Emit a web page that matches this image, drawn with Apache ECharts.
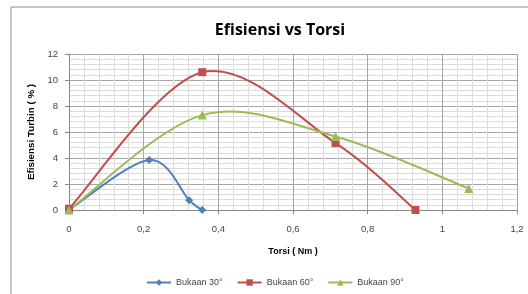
<!DOCTYPE html>
<html>
<head>
<meta charset="utf-8">
<script src="https://cdn.jsdelivr.net/npm/echarts@6/dist/echarts.min.js"></script>
<style>
  html, body { margin: 0; padding: 0; background: #fff; }
  #chart { width: 528px; height: 294px; }
</style>
</head>
<body>
<div id="chart"></div>
<script>
// data
const torsi30 = [0, 0.215, 0.322, 0.357];
const efisiensi30 = [0, 3.85, 0.75, 0];
const torsi60 = [0, 0.357, 0.714, 0.928];
const efisiensi60 = [0.1, 10.6, 5.15, 0];
const torsi90 = [0, 0.357, 0.714, 1.071];
const efisiensi90 = [0, 7.3, 5.65, 1.65];
const seriesNames = ['Bukaan 30°', 'Bukaan 60°', 'Bukaan 90°'];
const colors = ['#4F81BD', '#C0504D', '#9BBB59'];

const pairs = (xs, ys) => xs.map((x, i) => [x, ys[i]]);
const labelFont = "'Liberation Sans', sans-serif";
const comma = v => String(Math.round(v * 10) / 10).replace('.', ',');

// excel-style smoothing (catmull-rom, tangent/6) in pixel space
function smoothCurve(xs, ys, color) {
  return {
    type: 'custom',
    name: '_curve',
    silent: true,
    itemStyle: { color: color },
    data: [0],
    renderItem: (params, api) => {
      const p = xs.map((x, i) => api.coord([x, ys[i]]));
      let d = 'M' + p[0][0] + ' ' + p[0][1];
      for (let i = 0; i < p.length - 1; i++) {
        const a = p[Math.max(i - 1, 0)], b = p[i], c = p[i + 1], e = p[Math.min(i + 2, p.length - 1)];
        const c1 = [b[0] + (c[0] - a[0]) / 6, b[1] + (c[1] - a[1]) / 6];
        const c2 = [c[0] - (e[0] - b[0]) / 6, c[1] - (e[1] - b[1]) / 6];
        d += ' C' + c1.join(' ') + ' ' + c2.join(' ') + ' ' + c.join(' ');
      }
      return { type: 'path', shape: { pathData: d }, style: { fill: 'none', stroke: color, lineWidth: 2 } };
    }
  };
}

function markers(i, symbol, size, xs, ys) {
  return {
    name: seriesNames[i], type: 'line', data: pairs(xs, ys),
    symbol: symbol, symbolSize: size,
    itemStyle: { color: colors[i] },
    lineStyle: { color: colors[i], width: 2, opacity: 0 }
  };
}

const chart = echarts.init(document.getElementById('chart'));
chart.setOption({
  animation: false,
  backgroundColor: '#fff',
  graphic: [{
    type: 'rect',
    shape: { x: 11, y: 7, width: 530, height: 300 },
    style: { fill: 'none', stroke: '#8c8c8c', lineWidth: 1 },
    silent: true
  }],
  title: {
    text: 'Efisiensi vs Torsi',
    left: 275, top: 17, textAlign: 'center',
    textStyle: { fontFamily: "'Open Sans', sans-serif", fontWeight: 'bold', fontSize: 16, color: '#000' }
  },
  legend: {
    bottom: 2, left: 141, itemGap: 14, itemWidth: 24, itemHeight: 8,
    textStyle: { fontFamily: labelFont, fontSize: 9, color: '#444' },
    lineStyle: { opacity: 1, width: 2 },
    data: seriesNames
  },
  grid: { left: 69, right: 11, top: 54, bottom: 84 },
  xAxis: {
    type: 'value', min: 0, max: 1.2, interval: 0.2,
    name: 'Torsi ( Nm )', nameLocation: 'middle', nameGap: 37,
    nameTextStyle: { fontFamily: labelFont, fontWeight: 'bold', fontSize: 9, color: '#000' },
    axisLine: { show: true, lineStyle: { color: '#888' } },
    axisTick: { show: true, length: 4, lineStyle: { color: '#888' } },
    axisLabel: { fontFamily: labelFont, fontSize: 9.5, color: '#444', margin: 14, formatter: comma },
    splitLine: { show: true, lineStyle: { color: '#a6a6a6' } },
    minorTick: { show: false, splitNumber: 5 },
    minorSplitLine: { show: true, lineStyle: { color: '#dcdcdc' } }
  },
  yAxis: {
    type: 'value', min: 0, max: 12, interval: 2,
    name: 'Efisiensi Turbin ( % )', nameLocation: 'middle', nameGap: 32,
    nameTextStyle: { fontFamily: labelFont, fontWeight: 'bold', fontSize: 9.8, color: '#000' },
    axisLine: { show: true, lineStyle: { color: '#888' } },
    axisTick: { show: true, length: 4, lineStyle: { color: '#888' } },
    axisLabel: { fontFamily: labelFont, fontSize: 9.5, color: '#444', margin: 11 },
    splitLine: { show: true, lineStyle: { color: '#a6a6a6' } },
    minorTick: { show: false, splitNumber: 5 },
    minorSplitLine: { show: true, lineStyle: { color: '#dcdcdc' } }
  },
  series: [
    smoothCurve(torsi30, efisiensi30, colors[0]),
    smoothCurve(torsi60, efisiensi60, colors[1]),
    smoothCurve(torsi90, efisiensi90, colors[2]),
    markers(0, 'diamond', 8, torsi30, efisiensi30),
    markers(1, 'rect', 8, torsi60, efisiensi60),
    markers(2, 'triangle', 9, torsi90, efisiensi90)
  ]
});
</script>
</body>
</html>
